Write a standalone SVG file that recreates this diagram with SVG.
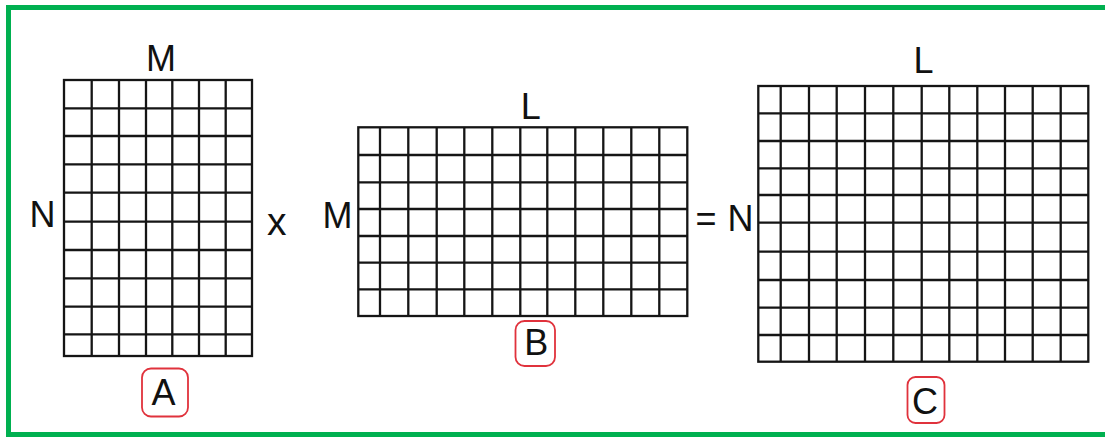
<svg xmlns="http://www.w3.org/2000/svg" width="1105" height="438" viewBox="0 0 1105 438">
<style>
.grid{fill:none;stroke:#151515;stroke-width:2.3}
.lbl{font-family:"Liberation Sans",Arial,sans-serif;font-size:36px;fill:#111}
.mid{text-anchor:middle}
.tag{fill:none;stroke:#e0323c;stroke-width:1.8}
</style>
<rect x="0" y="0" width="1105" height="438" fill="#ffffff"/>
<rect x="8.5" y="7.5" width="1110" height="427" fill="none" stroke="#00b050" stroke-width="5"/>
<g id="matrixA">
<rect class="grid" x="64" y="80" width="188" height="276"/>
<path class="grid" d="M91.7 80V356M119 80V356M146 80V356M172.3 80V356M199 80V356M225.7 80V356M64 108.3H252M64 136H252M64 164.3H252M64 192.7H252M64 221.7H252M64 250H252M64 278.3H252M64 306.7H252M64 334.3H252"/>
<text class="lbl mid" x="161" y="71">M</text>
<text class="lbl mid" x="42.5" y="227">N</text>
<rect class="tag" x="142" y="368.5" width="46" height="48" rx="9"/>
<text class="lbl mid" x="163.5" y="405">A</text>
</g>
<g id="matrixB">
<rect class="grid" x="358.3" y="127.3" width="329" height="188.7"/>
<path class="grid" d="M380 127.3V316M408.3 127.3V316M436.7 127.3V316M464.3 127.3V316M492.3 127.3V316M520.3 127.3V316M547.3 127.3V316M575.3 127.3V316M603.3 127.3V316M631.3 127.3V316M659.3 127.3V316M358.3 155H687.3M358.3 182.3H687.3M358.3 209H687.3M358.3 236H687.3M358.3 262.7H687.3M358.3 289.3H687.3"/>
<text class="lbl" x="520.7" y="119.3">L</text>
<text class="lbl mid" x="337.5" y="228.3">M</text>
<rect class="tag" x="515.5" y="321" width="39.5" height="45" rx="9"/>
<text class="lbl mid" x="536.3" y="355">B</text>
</g>
<g id="matrixC">
<rect class="grid" x="758.3" y="86" width="330" height="275.7"/>
<path class="grid" d="M780.7 86V361.7M809 86V361.7M836.7 86V361.7M865 86V361.7M893.3 86V361.7M921.7 86V361.7M949.3 86V361.7M977.3 86V361.7M1005 86V361.7M1032.7 86V361.7M1060.7 86V361.7M758.3 113.3H1088.3M758.3 141H1088.3M758.3 168.3H1088.3M758.3 195H1088.3M758.3 222.7H1088.3M758.3 251.7H1088.3M758.3 280H1088.3M758.3 307.7H1088.3M758.3 335H1088.3"/>
<text class="lbl" x="913.4" y="73">L</text>
<text class="lbl mid" x="740.5" y="231">N</text>
<rect class="tag" x="907.5" y="377" width="37" height="46" rx="8"/>
<text class="lbl mid" x="925" y="414">C</text>
</g>
<g id="connectors">
<text class="lbl mid" x="276.7" y="234.5" style="font-size:39px">x</text>
<text class="lbl mid" x="706" y="231">=</text>
</g>
</svg>
